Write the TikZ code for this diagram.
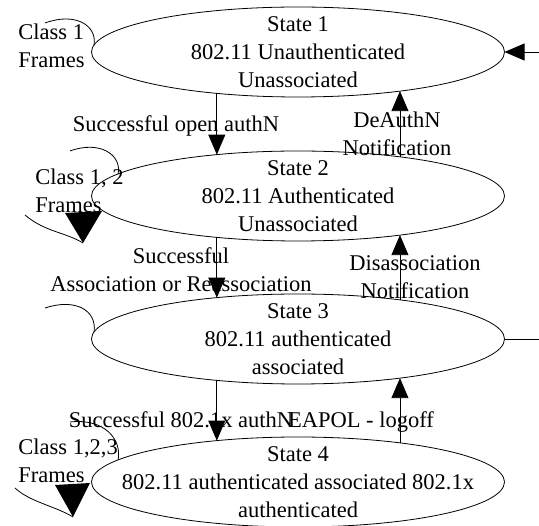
\documentclass[tikz,border=0pt]{standalone}
\usepackage{fontspec}
\setmainfont{Liberation Serif}
\usetikzlibrary{shapes.geometric,arrows.meta}

\begin{document}
\begin{tikzpicture}[x=1pt,y=-1pt,line width=0.8pt,font=\fontsize{22.5pt}{28pt}\selectfont,>={Triangle[width=17pt,length=20pt]}]
% Node styles: the states and the captions
\tikzstyle{state node}=[ellipse,draw,minimum width=413pt,minimum height=90pt,inner sep=0,outer sep=0];
\tikzstyle{state text}=[align=center,inner sep=0];
\tikzstyle{edge text}=[align=center,inner sep=0,anchor=base];
\tikzstyle{class text}=[align=left,inner sep=0,anchor=base west];
\useasboundingbox (0,0) rectangle (539,526);
% The four states
\node(s1)[state node] at (298,52){};
\node(s2)[state node] at (298,196){};
\node(s3)[state node] at (298,339){};
\node(s4)[state node] at (298,482){};
\node(t1)[state text] at (s1){State 1\\802.11 Unauthenticated\\Unassociated};
\node(t2)[state text] at (s2){State 2\\802.11 Authenticated\\Unassociated};
\node(t3)[state text] at (s3){State 3\\802.11 authenticated\\associated};
\node(t4)[state text] at (s4){State 4\\802.11 authenticated associated 802.1x\\authenticated};
% Transitions down and up (base of a two line caption is its last line)
\draw[->] (s1.207) -- (s2.153);
\draw[->] (s2.21) -- (s1.339);
\draw[->] (s2.207) -- (s3.153);
\draw[->] (s3.21) -- (s2.339);
\draw[->] (s3.207) -- (s4.153);
\draw[->] (s4.21) -- (s3.339);
\node(a12)[edge text] at (176,132){Successful open authN};
\node(a21)[edge text] at (397,156){DeAuthN\\Notification};
\node(a23)[edge text] at (181,292){Successful\\Association or Reassociation};
\node(a32)[edge text] at (415,299){Disassociation\\Notification};
\node(a34)[edge text] at (181,428){Successful 802.1x authN};
\node(a43)[edge text] at (361,428){EAPOL - logoff};
% Allowed frame classes
\node(c1)[class text] at (18,68){Class 1\\Frames};
\node(c2)[class text] at (35,213){Class 1, 2\\Frames};
\node(c3)[class text] at (18,483){Class 1,2,3\\Frames};
% Self loops
\coordinate(l1) at (45,23);
\draw (l1) .. controls (75,12) and (97,25) .. (s1.178);
\coordinate(l2a) at (70,151);
\coordinate(l2b) at (25,215);
\coordinate(l2t) at (83,243);
\draw (l2a) .. controls (100,140) and (122,155) .. (s2.173);
\draw (l2b) .. controls (45,232) and (65,232) .. (l2t);
\fill (l2t) -- ++(-18,-30) -- ++(37,-2) -- cycle;
\coordinate(l3) at (45,308);
\draw (l3) .. controls (75,298) and (97,310) .. (s3.178);
\coordinate(l4a) at (70,422);
\coordinate(l4b) at (15,488);
\coordinate(l4t) at (73,517);
\draw (l4a) .. controls (105,418) and (122,440) .. (s4.173);
\draw (l4b) .. controls (30,502) and (55,506) .. (l4t);
\fill (l4t) -- ++(-18,-32) -- ++(35,-2) -- cycle;
% Links off to the right
\coordinate(r1) at (539,52);
\coordinate(r3) at (539,339);
\draw[->] (r1) -- (s1.east);
\draw (s3.east) -- (r3);
\end{tikzpicture}
\end{document}
